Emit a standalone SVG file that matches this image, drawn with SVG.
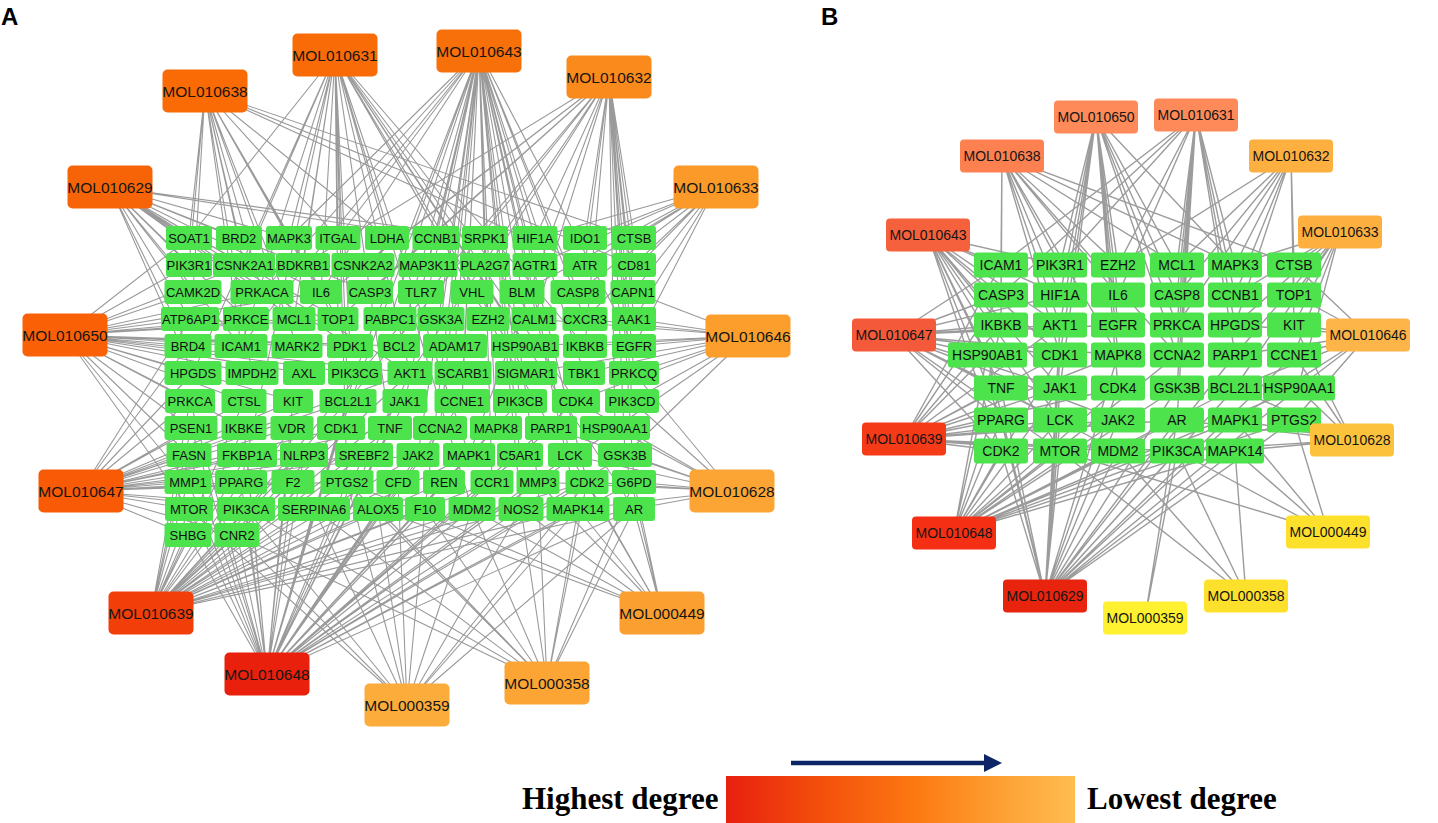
<svg xmlns="http://www.w3.org/2000/svg" width="1438" height="823" viewBox="0 0 1438 823">
<defs>
<style>
.e{fill:none;stroke:#9a9a9a;stroke-width:1.1}
.eb{fill:none;stroke:#9c9c9c;stroke-width:1.4}
.g rect{fill:#4de34d}
.g text{font-family:"Liberation Sans",Arial,sans-serif;font-size:13px;fill:#111;text-anchor:middle}
.gb rect{fill:#4de34d}
.gb text{font-family:"Liberation Sans",Arial,sans-serif;font-size:14px;fill:#111;text-anchor:middle}
.m text{font-family:"Liberation Sans",Arial,sans-serif;font-size:15.5px;fill:#151515;text-anchor:middle}
.mb text{font-family:"Liberation Sans",Arial,sans-serif;font-size:14px;fill:#151515;text-anchor:middle}
.lab{font-family:"Liberation Sans",Arial,sans-serif;font-size:24px;font-weight:bold;fill:#000}
.leg{font-family:"Liberation Serif","Times New Roman",serif;font-size:31px;font-weight:bold;fill:#000}
</style>
<linearGradient id="grad" x1="0" y1="0" x2="1" y2="0">
<stop offset="0" stop-color="#e8200e"/>
<stop offset="0.3" stop-color="#f4540c"/>
<stop offset="0.55" stop-color="#fc7a12"/>
<stop offset="0.8" stop-color="#fda235"/>
<stop offset="1" stop-color="#ffbd50"/>
</linearGradient>
<marker id="ah" markerWidth="4" markerHeight="4" refX="0" refY="2" orient="auto" markerUnits="strokeWidth">
<path d="M0 0L4 2L0 4Z" fill="#0d2466"/>
</marker>
</defs>
<rect width="1438" height="823" fill="#fff"/>
<text class="lab" x="1" y="25">A</text>
<text class="lab" x="821" y="25">B</text>

<g id="connectors">
<path class="e" d="M335 55 189 238M335 55 289 238M335 55 338 238M335 55 387 238M335 55 244 265M335 55 303 265M335 55 321 292M335 55 370 292M335 55 472 292M335 55 294 319M335 55 338 319M335 55 488 319M335 55 534 319M335 55 241 346M335 55 350 346M335 55 525 346M335 55 585 346M335 55 410 373M335 55 526 373M335 55 348 401M335 55 576 401M335 55 390 428M335 55 551 428M335 55 469 455M335 55 347 482M335 55 472 509M335 55 634 509M335 55 241 482M335 55 193 373"/>
<path class="e" d="M479 51 436 238M479 51 485 238M479 51 535 238M479 51 289 238M479 51 338 238M479 51 485 265M479 51 535 265M479 51 428 265M479 51 578 292M479 51 522 292M479 51 421 292M479 51 262 292M479 51 390 319M479 51 441 319M479 51 488 319M479 51 585 319M479 51 399 346M479 51 455 346M479 51 634 346M479 51 463 373M479 51 584 373M479 51 355 373M479 51 462 401M479 51 520 401M479 51 405 401M479 51 440 428M479 51 496 428M479 51 341 428M479 51 520 455M479 51 570 455M479 51 418 455M479 51 492 482M479 51 538 482M479 51 587 482M479 51 521 509M479 51 578 509M479 51 425 509M479 51 241 346M479 51 321 292"/>
<path class="e" d="M609 77 585 238M609 77 634 238M609 77 535 238M609 77 585 265M609 77 634 265M609 77 633 292M609 77 634 319M609 77 534 319M609 77 472 292M609 77 338 319M609 77 294 319M609 77 585 346M609 77 634 373M609 77 632 401M609 77 615 428M609 77 625 455M609 77 634 482M609 77 370 292M609 77 363 265M609 77 410 373M609 77 469 455M609 77 348 401M609 77 246 509M609 77 303 265"/>
<path class="e" d="M205 91 189 238M205 91 189 265M205 91 193 292M205 91 239 238M205 91 244 265M205 91 262 292M205 91 294 319M205 91 241 346M205 91 297 346M205 91 252 373M205 91 634 238M205 91 634 265M205 91 338 238M205 91 321 292M205 91 338 319M205 91 585 265M205 91 387 238M205 91 350 346"/>
<path class="e" d="M110 187 189 238M110 187 189 265M110 187 193 292M110 187 239 238M110 187 244 265M110 187 289 238M110 187 436 238M110 187 303 265M110 187 262 292M110 187 321 292M110 187 190 319M110 187 246 319M110 187 294 319M110 187 241 346M110 187 188 346M110 187 193 373M110 187 410 373M110 187 485 238M110 187 370 292M110 187 350 346M110 187 338 319"/>
<path class="e" d="M716 187 634 238M716 187 634 265M716 187 585 238M716 187 585 265M716 187 633 292M716 187 578 292M716 187 634 319M716 187 585 319M716 187 634 346M716 187 535 238M716 187 535 265M716 187 522 292"/>
<path class="e" d="M65 335 189 238M65 335 189 265M65 335 193 292M65 335 190 319M65 335 188 346M65 335 193 373M65 335 190 401M65 335 191 428M65 335 189 455M65 335 244 265M65 335 262 292M65 335 246 319M65 335 241 346M65 335 252 373M65 335 244 401M65 335 244 428M65 335 294 319M65 335 297 346M65 335 304 373M65 335 293 401M65 335 321 292M65 335 338 319M65 335 350 346M65 335 355 373M65 335 399 346M65 335 410 373M65 335 188 482M65 335 189 509"/>
<path class="e" d="M748 336 633 292M748 336 634 319M748 336 634 346M748 336 634 373M748 336 632 401M748 336 615 428M748 336 585 346M748 336 584 373M748 336 576 401M748 336 585 319M748 336 534 319M748 336 525 346M748 336 526 373M748 336 625 455"/>
<path class="e" d="M81 491 190 401M81 491 191 428M81 491 189 455M81 491 188 482M81 491 189 509M81 491 188 535M81 491 193 373M81 491 188 346M81 491 247 455M81 491 241 482M81 491 246 509M81 491 237 535M81 491 244 428M81 491 292 428M81 491 304 455M81 491 293 482M81 491 314 509M81 491 244 401M81 491 293 401M81 491 341 428M81 491 347 482M81 491 390 428M81 491 418 455M81 491 364 455M81 491 348 401M81 491 410 373M81 491 190 319"/>
<path class="e" d="M732 491 634 482M732 491 634 509M732 491 625 455M732 491 615 428M732 491 587 482M732 491 578 509M732 491 632 401M732 491 570 455M732 491 538 482M732 491 551 428M732 491 576 401M732 491 634 373"/>
<path class="e" d="M151 613 188 535M151 613 237 535M151 613 189 509M151 613 246 509M151 613 188 482M151 613 241 482M151 613 189 455M151 613 247 455M151 613 314 509M151 613 378 509M151 613 425 509M151 613 472 509M151 613 521 509M151 613 578 509M151 613 347 482M151 613 293 482M151 613 398 482M151 613 444 482M151 613 492 482M151 613 304 455M151 613 364 455M151 613 418 455M151 613 469 455M151 613 390 428M151 613 341 428M151 613 292 428M151 613 191 428M151 613 244 428M151 613 190 401M151 613 244 401M151 613 348 401M151 613 405 401M151 613 410 373M151 613 587 482M151 613 634 509"/>
<path class="e" d="M662 613 634 509M662 613 578 509M662 613 634 482M662 613 587 482M662 613 538 482M662 613 521 509M662 613 625 455M662 613 570 455M662 613 472 509M662 613 347 482M662 613 378 509"/>
<path class="e" d="M267 674 188 535M267 674 237 535M267 674 189 509M267 674 246 509M267 674 314 509M267 674 378 509M267 674 425 509M267 674 472 509M267 674 521 509M267 674 578 509M267 674 634 509M267 674 188 482M267 674 241 482M267 674 293 482M267 674 347 482M267 674 398 482M267 674 444 482M267 674 492 482M267 674 538 482M267 674 587 482M267 674 634 482M267 674 189 455M267 674 247 455M267 674 304 455M267 674 364 455M267 674 418 455M267 674 469 455M267 674 520 455M267 674 570 455M267 674 625 455M267 674 191 428M267 674 292 428M267 674 341 428M267 674 390 428M267 674 440 428M267 674 496 428M267 674 551 428M267 674 615 428M267 674 293 401M267 674 348 401M267 674 405 401M267 674 462 401M267 674 520 401M267 674 576 401M267 674 410 373M267 674 355 373M267 674 244 428M267 674 190 401"/>
<path class="e" d="M547 683 634 509M547 683 578 509M547 683 521 509M547 683 472 509M547 683 425 509M547 683 378 509M547 683 314 509M547 683 246 509M547 683 634 482M547 683 587 482M547 683 538 482M547 683 347 482M547 683 237 535"/>
<path class="e" d="M407 705 378 509M407 705 425 509M407 705 472 509M407 705 521 509M407 705 578 509M407 705 634 509M407 705 314 509M407 705 246 509M407 705 237 535M407 705 189 509M407 705 347 482M407 705 398 482M407 705 587 482"/>

<path class="eb" d="M1096 117 1060 265M1096 117 1118 265M1096 117 1177 265M1096 117 1235 265M1096 117 1060 295M1096 117 1118 295M1096 117 1177 295M1096 117 1060 325M1096 117 1118 325M1096 117 1060 355M1096 117 1118 355M1096 117 1060 388M1096 117 1118 388M1096 117 1177 325M1096 117 1177 355"/>
<path class="eb" d="M1196 115 1001 265M1196 115 1060 265M1196 115 1118 265M1196 115 1177 265M1196 115 1235 265M1196 115 1177 295M1196 115 1235 295M1196 115 1118 295M1196 115 1177 325M1196 115 1235 325M1196 115 1177 355M1196 115 1235 355M1196 115 1177 388M1196 115 1177 420M1196 115 1001 295"/>
<path class="eb" d="M1002 156 1001 265M1002 156 1060 265M1002 156 1118 265M1002 156 1177 265M1002 156 1294 265M1002 156 1001 295M1002 156 1060 295M1002 156 1118 295M1002 156 1060 325M1002 156 1060 355M1002 156 1118 355M1002 156 1001 325M1002 156 1177 355M1002 156 1235 265"/>
<path class="eb" d="M1291 156 1294 265M1291 156 1235 265M1291 156 1177 265M1291 156 1235 295M1291 156 1294 295M1291 156 1294 325M1291 156 1235 325M1291 156 1177 295M1291 156 1118 265M1291 156 1177 325"/>
<path class="eb" d="M928 235 1001 265M928 235 1001 295M928 235 1001 325M928 235 987 355M928 235 1001 388M928 235 1001 420M928 235 1001 451M928 235 1060 295M928 235 1060 325M928 235 1060 355M928 235 1060 388M928 235 1060 420M928 235 1060 451M928 235 1060 265"/>
<path class="eb" d="M1340 232 1294 265M1340 232 1294 295M1340 232 1294 325M1340 232 1294 355M1340 232 1298 388M1340 232 1235 295M1340 232 1235 325M1340 232 1235 355M1340 232 1235 265M1340 232 1235 388"/>
<path class="eb" d="M894 335 1001 265M894 335 1001 295M894 335 1001 325M894 335 987 355M894 335 1001 388M894 335 1001 420M894 335 1001 451M894 335 1060 325M894 335 1060 355M894 335 1060 388M894 335 1060 420M894 335 1060 451M894 335 1060 295M894 335 1118 325M894 335 1118 355M894 335 1118 420M894 335 1118 451"/>
<path class="eb" d="M1368 335 1294 325M1368 335 1294 355M1368 335 1298 388M1368 335 1294 420M1368 335 1294 295M1368 335 1235 355M1368 335 1235 388M1368 335 1235 420M1368 335 1235 325M1368 335 1294 265"/>
<path class="eb" d="M904 439 1001 420M904 439 1001 451M904 439 1001 388M904 439 987 355M904 439 1001 325M904 439 1001 295M904 439 1060 420M904 439 1060 451M904 439 1060 388M904 439 1060 355M904 439 1118 420M904 439 1118 451M904 439 1060 325M904 439 1118 388M904 439 1177 420M904 439 1177 451M904 439 1118 355M904 439 1001 265"/>
<path class="eb" d="M1352 440 1294 420M1352 440 1298 388M1352 440 1235 451M1352 440 1235 420M1352 440 1294 355M1352 440 1235 388M1352 440 1294 325M1352 440 1177 451M1352 440 1177 420"/>
<path class="eb" d="M954 533 1001 451M954 533 1001 420M954 533 1060 451M954 533 1060 420M954 533 1118 451M954 533 1118 420M954 533 1177 451M954 533 1177 420M954 533 1235 451M954 533 1235 420M954 533 1001 388M954 533 1060 388M954 533 1118 388M954 533 1177 388M954 533 1235 388M954 533 987 355M954 533 1060 355M954 533 1294 420M954 533 1298 388M954 533 1177 355M954 533 1001 325"/>
<path class="eb" d="M1328 532 1235 451M1328 532 1060 451M1328 532 1235 420M1328 532 1294 420M1328 532 1177 451"/>
<path class="eb" d="M1045 596 1001 451M1045 596 1060 451M1045 596 1118 451M1045 596 1177 451M1045 596 1235 451M1045 596 1001 420M1045 596 1060 420M1045 596 1118 420M1045 596 1177 420M1045 596 1235 420M1045 596 1294 420M1045 596 1001 388M1045 596 1060 388M1045 596 1118 388M1045 596 1177 388M1045 596 1235 388M1045 596 1298 388M1045 596 1060 355M1045 596 1118 355M1045 596 1235 355M1045 596 1294 355M1045 596 987 355M1045 596 1060 325"/>
<path class="eb" d="M1246 596 1118 451M1246 596 1177 451M1246 596 1235 451M1246 596 1060 451"/>
<path class="eb" d="M1145 618 1177 451M1145 618 1177 420"/>
</g>

<g id="panelA-genes" class="g">
<g id="a-SOAT1"><rect x="166" y="226" width="46" height="24" rx="3"/><text x="189" y="243">SOAT1</text></g>
<g id="a-BRD2"><rect x="216" y="226" width="46" height="24" rx="3"/><text x="239" y="243">BRD2</text></g>
<g id="a-MAPK3"><rect x="266" y="226" width="46" height="24" rx="3"/><text x="289" y="243">MAPK3</text></g>
<g id="a-ITGAL"><rect x="315.5" y="226" width="45" height="24" rx="3"/><text x="338" y="243">ITGAL</text></g>
<g id="a-LDHA"><rect x="365" y="226" width="44" height="24" rx="3"/><text x="387" y="243">LDHA</text></g>
<g id="a-CCNB1"><rect x="412.5" y="226" width="47" height="24" rx="3"/><text x="436" y="243">CCNB1</text></g>
<g id="a-SRPK1"><rect x="462" y="226" width="46" height="24" rx="3"/><text x="485" y="243">SRPK1</text></g>
<g id="a-HIF1A"><rect x="512.5" y="226" width="45" height="24" rx="3"/><text x="535" y="243">HIF1A</text></g>
<g id="a-IDO1"><rect x="563" y="226" width="44" height="24" rx="3"/><text x="585" y="243">IDO1</text></g>
<g id="a-CTSB"><rect x="612" y="226" width="44" height="24" rx="3"/><text x="634" y="243">CTSB</text></g>

<g id="a-PIK3R1"><rect x="166" y="253" width="46" height="24" rx="3"/><text x="189" y="270">PIK3R1</text></g>
<g id="a-CSNK2A1"><rect x="213" y="253" width="62" height="24" rx="3"/><text x="244" y="270">CSNK2A1</text></g>
<g id="a-BDKRB1"><rect x="276" y="253" width="54" height="24" rx="3"/><text x="303" y="270">BDKRB1</text></g>
<g id="a-CSNK2A2"><rect x="331.5" y="253" width="63" height="24" rx="3"/><text x="363" y="270">CSNK2A2</text></g>
<g id="a-MAP3K11"><rect x="398.5" y="253" width="59" height="24" rx="3"/><text x="428" y="270">MAP3K11</text></g>
<g id="a-PLA2G7"><rect x="460" y="253" width="50" height="24" rx="3"/><text x="485" y="270">PLA2G7</text></g>
<g id="a-AGTR1"><rect x="512.5" y="253" width="45" height="24" rx="3"/><text x="535" y="270">AGTR1</text></g>
<g id="a-ATR"><rect x="563" y="253" width="44" height="24" rx="3"/><text x="585" y="270">ATR</text></g>
<g id="a-CD81"><rect x="612" y="253" width="44" height="24" rx="3"/><text x="634" y="270">CD81</text></g>

<g id="a-CAMK2D"><rect x="164.5" y="280" width="57" height="24" rx="3"/><text x="193" y="297">CAMK2D</text></g>
<g id="a-PRKACA"><rect x="230.5" y="280" width="63" height="24" rx="3"/><text x="262" y="297">PRKACA</text></g>
<g id="a-IL6"><rect x="300" y="280" width="42" height="24" rx="3"/><text x="321" y="297">IL6</text></g>
<g id="a-CASP3"><rect x="347" y="280" width="46" height="24" rx="3"/><text x="370" y="297">CASP3</text></g>
<g id="a-TLR7"><rect x="398" y="280" width="46" height="24" rx="3"/><text x="421" y="297">TLR7</text></g>
<g id="a-VHL"><rect x="450.5" y="280" width="43" height="24" rx="3"/><text x="472" y="297">VHL</text></g>
<g id="a-BLM"><rect x="499.5" y="280" width="45" height="24" rx="3"/><text x="522" y="297">BLM</text></g>
<g id="a-CASP8"><rect x="550.5" y="280" width="55" height="24" rx="3"/><text x="578" y="297">CASP8</text></g>
<g id="a-CAPN1"><rect x="610.5" y="280" width="45" height="24" rx="3"/><text x="633" y="297">CAPN1</text></g>

<g id="a-ATP6AP1"><rect x="161" y="307" width="58" height="24" rx="3"/><text x="190" y="324">ATP6AP1</text></g>
<g id="a-PRKCE"><rect x="223" y="307" width="46" height="24" rx="3"/><text x="246" y="324">PRKCE</text></g>
<g id="a-MCL1"><rect x="272.5" y="307" width="43" height="24" rx="3"/><text x="294" y="324">MCL1</text></g>
<g id="a-TOP1"><rect x="317.5" y="307" width="41" height="24" rx="3"/><text x="338" y="324">TOP1</text></g>
<g id="a-PABPC1"><rect x="363.5" y="307" width="53" height="24" rx="3"/><text x="390" y="324">PABPC1</text></g>
<g id="a-GSK3A"><rect x="417.5" y="307" width="47" height="24" rx="3"/><text x="441" y="324">GSK3A</text></g>
<g id="a-EZH2"><rect x="466.5" y="307" width="43" height="24" rx="3"/><text x="488" y="324">EZH2</text></g>
<g id="a-CALM1"><rect x="511.5" y="307" width="45" height="24" rx="3"/><text x="534" y="324">CALM1</text></g>
<g id="a-CXCR3"><rect x="562.5" y="307" width="45" height="24" rx="3"/><text x="585" y="324">CXCR3</text></g>
<g id="a-AAK1"><rect x="612" y="307" width="44" height="24" rx="3"/><text x="634" y="324">AAK1</text></g>

<g id="a-BRD4"><rect x="164.5" y="334" width="47" height="24" rx="3"/><text x="188" y="351">BRD4</text></g>
<g id="a-ICAM1"><rect x="214.5" y="334" width="53" height="24" rx="3"/><text x="241" y="351">ICAM1</text></g>
<g id="a-MARK2"><rect x="271.5" y="334" width="51" height="24" rx="3"/><text x="297" y="351">MARK2</text></g>
<g id="a-PDK1"><rect x="327" y="334" width="46" height="24" rx="3"/><text x="350" y="351">PDK1</text></g>
<g id="a-BCL2"><rect x="378" y="334" width="42" height="24" rx="3"/><text x="399" y="351">BCL2</text></g>
<g id="a-ADAM17"><rect x="423" y="334" width="64" height="24" rx="3"/><text x="455" y="351">ADAM17</text></g>
<g id="a-HSP90AB1"><rect x="491" y="334" width="68" height="24" rx="3"/><text x="525" y="351">HSP90AB1</text></g>
<g id="a-IKBKB"><rect x="563" y="334" width="44" height="24" rx="3"/><text x="585" y="351">IKBKB</text></g>
<g id="a-EGFR"><rect x="612" y="334" width="44" height="24" rx="3"/><text x="634" y="351">EGFR</text></g>

<g id="a-HPGDS"><rect x="164.5" y="361" width="57" height="24" rx="3"/><text x="193" y="378">HPGDS</text></g>
<g id="a-IMPDH2"><rect x="225.5" y="361" width="53" height="24" rx="3"/><text x="252" y="378">IMPDH2</text></g>
<g id="a-AXL"><rect x="283" y="361" width="42" height="24" rx="3"/><text x="304" y="378">AXL</text></g>
<g id="a-PIK3CG"><rect x="328" y="361" width="54" height="24" rx="3"/><text x="355" y="378">PIK3CG</text></g>
<g id="a-AKT1"><rect x="387.5" y="361" width="45" height="24" rx="3"/><text x="410" y="378">AKT1</text></g>
<g id="a-SCARB1"><rect x="434.5" y="361" width="57" height="24" rx="3"/><text x="463" y="378">SCARB1</text></g>
<g id="a-SIGMAR1"><rect x="495" y="361" width="62" height="24" rx="3"/><text x="526" y="378">SIGMAR1</text></g>
<g id="a-TBK1"><rect x="563" y="361" width="42" height="24" rx="3"/><text x="584" y="378">TBK1</text></g>
<g id="a-PRKCQ"><rect x="609" y="361" width="50" height="24" rx="3"/><text x="634" y="378">PRKCQ</text></g>

<g id="a-PRKCA"><rect x="165" y="389" width="50" height="24" rx="3"/><text x="190" y="406">PRKCA</text></g>
<g id="a-CTSL"><rect x="221.5" y="389" width="45" height="24" rx="3"/><text x="244" y="406">CTSL</text></g>
<g id="a-KIT"><rect x="273" y="389" width="40" height="24" rx="3"/><text x="293" y="406">KIT</text></g>
<g id="a-BCL2L1"><rect x="319.5" y="389" width="57" height="24" rx="3"/><text x="348" y="406">BCL2L1</text></g>
<g id="a-JAK1"><rect x="382.5" y="389" width="45" height="24" rx="3"/><text x="405" y="406">JAK1</text></g>
<g id="a-CCNE1"><rect x="434.5" y="389" width="55" height="24" rx="3"/><text x="462" y="406">CCNE1</text></g>
<g id="a-PIK3CB"><rect x="493" y="389" width="54" height="24" rx="3"/><text x="520" y="406">PIK3CB</text></g>
<g id="a-CDK4"><rect x="552" y="389" width="48" height="24" rx="3"/><text x="576" y="406">CDK4</text></g>
<g id="a-PIK3CD"><rect x="605" y="389" width="54" height="24" rx="3"/><text x="632" y="406">PIK3CD</text></g>

<g id="a-PSEN1"><rect x="164.5" y="416" width="53" height="24" rx="3"/><text x="191" y="433">PSEN1</text></g>
<g id="a-IKBKE"><rect x="221.5" y="416" width="45" height="24" rx="3"/><text x="244" y="433">IKBKE</text></g>
<g id="a-VDR"><rect x="270.5" y="416" width="43" height="24" rx="3"/><text x="292" y="433">VDR</text></g>
<g id="a-CDK1"><rect x="317" y="416" width="48" height="24" rx="3"/><text x="341" y="433">CDK1</text></g>
<g id="a-TNF"><rect x="368" y="416" width="44" height="24" rx="3"/><text x="390" y="433">TNF</text></g>
<g id="a-CCNA2"><rect x="413" y="416" width="54" height="24" rx="3"/><text x="440" y="433">CCNA2</text></g>
<g id="a-MAPK8"><rect x="470" y="416" width="52" height="24" rx="3"/><text x="496" y="433">MAPK8</text></g>
<g id="a-PARP1"><rect x="525" y="416" width="52" height="24" rx="3"/><text x="551" y="433">PARP1</text></g>
<g id="a-HSP90AA1"><rect x="580" y="416" width="70" height="24" rx="3"/><text x="615" y="433">HSP90AA1</text></g>

<g id="a-FASN"><rect x="166.5" y="443" width="45" height="24" rx="3"/><text x="189" y="460">FASN</text></g>
<g id="a-FKBP1A"><rect x="217" y="443" width="60" height="24" rx="3"/><text x="247" y="460">FKBP1A</text></g>
<g id="a-NLRP3"><rect x="280" y="443" width="48" height="24" rx="3"/><text x="304" y="460">NLRP3</text></g>
<g id="a-SREBF2"><rect x="335" y="443" width="58" height="24" rx="3"/><text x="364" y="460">SREBF2</text></g>
<g id="a-JAK2"><rect x="396.5" y="443" width="43" height="24" rx="3"/><text x="418" y="460">JAK2</text></g>
<g id="a-MAPK1"><rect x="443" y="443" width="52" height="24" rx="3"/><text x="469" y="460">MAPK1</text></g>
<g id="a-C5AR1"><rect x="497" y="443" width="46" height="24" rx="3"/><text x="520" y="460">C5AR1</text></g>
<g id="a-LCK"><rect x="548" y="443" width="44" height="24" rx="3"/><text x="570" y="460">LCK</text></g>
<g id="a-GSK3B"><rect x="598" y="443" width="54" height="24" rx="3"/><text x="625" y="460">GSK3B</text></g>

<g id="a-MMP1"><rect x="164.5" y="470" width="47" height="24" rx="3"/><text x="188" y="487">MMP1</text></g>
<g id="a-PPARG"><rect x="215" y="470" width="52" height="24" rx="3"/><text x="241" y="487">PPARG</text></g>
<g id="a-F2"><rect x="271.5" y="470" width="43" height="24" rx="3"/><text x="293" y="487">F2</text></g>
<g id="a-PTGS2"><rect x="320.5" y="470" width="53" height="24" rx="3"/><text x="347" y="487">PTGS2</text></g>
<g id="a-CFD"><rect x="376.5" y="470" width="43" height="24" rx="3"/><text x="398" y="487">CFD</text></g>
<g id="a-REN"><rect x="423" y="470" width="42" height="24" rx="3"/><text x="444" y="487">REN</text></g>
<g id="a-CCR1"><rect x="470.5" y="470" width="43" height="24" rx="3"/><text x="492" y="487">CCR1</text></g>
<g id="a-MMP3"><rect x="516.5" y="470" width="43" height="24" rx="3"/><text x="538" y="487">MMP3</text></g>
<g id="a-CDK2"><rect x="565.5" y="470" width="43" height="24" rx="3"/><text x="587" y="487">CDK2</text></g>
<g id="a-G6PD"><rect x="612" y="470" width="44" height="24" rx="3"/><text x="634" y="487">G6PD</text></g>

<g id="a-MTOR"><rect x="165" y="497" width="48" height="24" rx="3"/><text x="189" y="514">MTOR</text></g>
<g id="a-PIK3CA"><rect x="217" y="497" width="58" height="24" rx="3"/><text x="246" y="514">PIK3CA</text></g>
<g id="a-SERPINA6"><rect x="278" y="497" width="72" height="24" rx="3"/><text x="314" y="514">SERPINA6</text></g>
<g id="a-ALOX5"><rect x="353" y="497" width="50" height="24" rx="3"/><text x="378" y="514">ALOX5</text></g>
<g id="a-F10"><rect x="405" y="497" width="40" height="24" rx="3"/><text x="425" y="514">F10</text></g>
<g id="a-MDM2"><rect x="448.5" y="497" width="47" height="24" rx="3"/><text x="472" y="514">MDM2</text></g>
<g id="a-NOS2"><rect x="498.5" y="497" width="45" height="24" rx="3"/><text x="521" y="514">NOS2</text></g>
<g id="a-MAPK14"><rect x="546.5" y="497" width="63" height="24" rx="3"/><text x="578" y="514">MAPK14</text></g>
<g id="a-AR"><rect x="613" y="497" width="42" height="24" rx="3"/><text x="634" y="514">AR</text></g>

<g id="a-SHBG"><rect x="164.5" y="523" width="47" height="24" rx="3"/><text x="188" y="540">SHBG</text></g>
<g id="a-CNR2"><rect x="214.5" y="523" width="45" height="24" rx="3"/><text x="237" y="540">CNR2</text></g>
</g>

<g id="panelA-mols" class="m">
<g id="a-MOL010631"><rect x="292.5" y="33.5" width="85" height="43" rx="5" fill="#f96b06"/><text x="335" y="60.5">MOL010631</text></g>
<g id="a-MOL010643"><rect x="436.5" y="29.5" width="85" height="43" rx="5" fill="#f8700a"/><text x="479" y="56.5">MOL010643</text></g>
<g id="a-MOL010632"><rect x="566.5" y="55.5" width="85" height="43" rx="5" fill="#fa8a1c"/><text x="609" y="82.5">MOL010632</text></g>
<g id="a-MOL010638"><rect x="162.5" y="69.5" width="85" height="43" rx="5" fill="#fa6a05"/><text x="205" y="96.5">MOL010638</text></g>
<g id="a-MOL010629"><rect x="67.5" y="165.5" width="85" height="43" rx="5" fill="#f76408"/><text x="110" y="192.5">MOL010629</text></g>
<g id="a-MOL010633"><rect x="673.5" y="165.5" width="85" height="43" rx="5" fill="#fb9a28"/><text x="716" y="192.5">MOL010633</text></g>
<g id="a-MOL010650"><rect x="22.5" y="313.5" width="85" height="43" rx="5" fill="#fa6005"/><text x="65" y="340.5">MOL010650</text></g>
<g id="a-MOL010646"><rect x="705.5" y="314.5" width="85" height="43" rx="5" fill="#fb9e2c"/><text x="748" y="341.5">MOL010646</text></g>
<g id="a-MOL010647"><rect x="38.5" y="469.5" width="85" height="43" rx="5" fill="#f85a05"/><text x="81" y="496.5">MOL010647</text></g>
<g id="a-MOL010628"><rect x="689.5" y="469.5" width="85" height="43" rx="5" fill="#fca535"/><text x="732" y="496.5">MOL010628</text></g>
<g id="a-MOL010639"><rect x="108.5" y="591.5" width="85" height="43" rx="5" fill="#f23f0a"/><text x="151" y="618.5">MOL010639</text></g>
<g id="a-MOL000449"><rect x="619.5" y="591.5" width="85" height="43" rx="5" fill="#fba030"/><text x="662" y="618.5">MOL000449</text></g>
<g id="a-MOL010648"><rect x="224.5" y="652.5" width="85" height="43" rx="5" fill="#e8200c"/><text x="267" y="679.5">MOL010648</text></g>
<g id="a-MOL000358"><rect x="504.5" y="661.5" width="85" height="43" rx="5" fill="#fca535"/><text x="547" y="688.5">MOL000358</text></g>
<g id="a-MOL000359"><rect x="364.5" y="683.5" width="85" height="43" rx="5" fill="#fcac3a"/><text x="407" y="710.5">MOL000359</text></g>
</g>

<g id="panelB-genes" class="gb">
<g id="b-ICAM1"><rect x="974" y="252.5" width="54" height="25" rx="3"/><text x="1001" y="270">ICAM1</text></g>
<g id="b-PIK3R1"><rect x="1033" y="252.5" width="54" height="25" rx="3"/><text x="1060" y="270">PIK3R1</text></g>
<g id="b-EZH2"><rect x="1091" y="252.5" width="54" height="25" rx="3"/><text x="1118" y="270">EZH2</text></g>
<g id="b-MCL1"><rect x="1150" y="252.5" width="54" height="25" rx="3"/><text x="1177" y="270">MCL1</text></g>
<g id="b-MAPK3"><rect x="1208" y="252.5" width="54" height="25" rx="3"/><text x="1235" y="270">MAPK3</text></g>
<g id="b-CTSB"><rect x="1267" y="252.5" width="54" height="25" rx="3"/><text x="1294" y="270">CTSB</text></g>

<g id="b-CASP3"><rect x="974" y="282.5" width="54" height="25" rx="3"/><text x="1001" y="300">CASP3</text></g>
<g id="b-HIF1A"><rect x="1033" y="282.5" width="54" height="25" rx="3"/><text x="1060" y="300">HIF1A</text></g>
<g id="b-IL6"><rect x="1091" y="282.5" width="54" height="25" rx="3"/><text x="1118" y="300">IL6</text></g>
<g id="b-CASP8"><rect x="1150" y="282.5" width="54" height="25" rx="3"/><text x="1177" y="300">CASP8</text></g>
<g id="b-CCNB1"><rect x="1208" y="282.5" width="54" height="25" rx="3"/><text x="1235" y="300">CCNB1</text></g>
<g id="b-TOP1"><rect x="1267" y="282.5" width="54" height="25" rx="3"/><text x="1294" y="300">TOP1</text></g>

<g id="b-IKBKB"><rect x="974" y="312.5" width="54" height="25" rx="3"/><text x="1001" y="330">IKBKB</text></g>
<g id="b-AKT1"><rect x="1033" y="312.5" width="54" height="25" rx="3"/><text x="1060" y="330">AKT1</text></g>
<g id="b-EGFR"><rect x="1091" y="312.5" width="54" height="25" rx="3"/><text x="1118" y="330">EGFR</text></g>
<g id="b-PRKCA"><rect x="1150" y="312.5" width="54" height="25" rx="3"/><text x="1177" y="330">PRKCA</text></g>
<g id="b-HPGDS"><rect x="1208" y="312.5" width="54" height="25" rx="3"/><text x="1235" y="330">HPGDS</text></g>
<g id="b-KIT"><rect x="1267" y="312.5" width="54" height="25" rx="3"/><text x="1294" y="330">KIT</text></g>

<g id="b-HSP90AB1"><rect x="948" y="342.5" width="79" height="25" rx="3"/><text x="987.5" y="360">HSP90AB1</text></g>
<g id="b-CDK1"><rect x="1033" y="342.5" width="54" height="25" rx="3"/><text x="1060" y="360">CDK1</text></g>
<g id="b-MAPK8"><rect x="1091" y="342.5" width="54" height="25" rx="3"/><text x="1118" y="360">MAPK8</text></g>
<g id="b-CCNA2"><rect x="1150" y="342.5" width="54" height="25" rx="3"/><text x="1177" y="360">CCNA2</text></g>
<g id="b-PARP1"><rect x="1208" y="342.5" width="54" height="25" rx="3"/><text x="1235" y="360">PARP1</text></g>
<g id="b-CCNE1"><rect x="1267" y="342.5" width="54" height="25" rx="3"/><text x="1294" y="360">CCNE1</text></g>

<g id="b-TNF"><rect x="974" y="375.5" width="54" height="25" rx="3"/><text x="1001" y="393">TNF</text></g>
<g id="b-JAK1"><rect x="1033" y="375.5" width="54" height="25" rx="3"/><text x="1060" y="393">JAK1</text></g>
<g id="b-CDK4"><rect x="1091" y="375.5" width="54" height="25" rx="3"/><text x="1118" y="393">CDK4</text></g>
<g id="b-GSK3B"><rect x="1150" y="375.5" width="54" height="25" rx="3"/><text x="1177" y="393">GSK3B</text></g>
<g id="b-BCL2L1"><rect x="1208" y="375.5" width="54" height="25" rx="3"/><text x="1235" y="393">BCL2L1</text></g>
<g id="b-HSP90AA1"><rect x="1263" y="375.5" width="72" height="25" rx="3"/><text x="1299" y="393">HSP90AA1</text></g>

<g id="b-PPARG"><rect x="974" y="407.5" width="54" height="25" rx="3"/><text x="1001" y="425">PPARG</text></g>
<g id="b-LCK"><rect x="1033" y="407.5" width="54" height="25" rx="3"/><text x="1060" y="425">LCK</text></g>
<g id="b-JAK2"><rect x="1091" y="407.5" width="54" height="25" rx="3"/><text x="1118" y="425">JAK2</text></g>
<g id="b-AR"><rect x="1150" y="407.5" width="54" height="25" rx="3"/><text x="1177" y="425">AR</text></g>
<g id="b-MAPK1"><rect x="1208" y="407.5" width="54" height="25" rx="3"/><text x="1235" y="425">MAPK1</text></g>
<g id="b-PTGS2"><rect x="1267" y="407.5" width="54" height="25" rx="3"/><text x="1294" y="425">PTGS2</text></g>

<g id="b-CDK2"><rect x="974" y="438.5" width="54" height="25" rx="3"/><text x="1001" y="456">CDK2</text></g>
<g id="b-MTOR"><rect x="1033" y="438.5" width="54" height="25" rx="3"/><text x="1060" y="456">MTOR</text></g>
<g id="b-MDM2"><rect x="1091" y="438.5" width="54" height="25" rx="3"/><text x="1118" y="456">MDM2</text></g>
<g id="b-PIK3CA"><rect x="1150" y="438.5" width="54" height="25" rx="3"/><text x="1177" y="456">PIK3CA</text></g>
<g id="b-MAPK14"><rect x="1206" y="438.5" width="58" height="25" rx="3"/><text x="1235" y="456">MAPK14</text></g>
</g>

<g id="panelB-mols" class="mb">
<g id="b-MOL010650"><rect x="1054" y="100.5" width="84" height="33" rx="4" fill="#fd8a58"/><text x="1096" y="122">MOL010650</text></g>
<g id="b-MOL010631"><rect x="1154" y="98.5" width="84" height="33" rx="4" fill="#fd8a58"/><text x="1196" y="120">MOL010631</text></g>
<g id="b-MOL010638"><rect x="960" y="139.5" width="84" height="33" rx="4" fill="#fc8050"/><text x="1002" y="161">MOL010638</text></g>
<g id="b-MOL010632"><rect x="1249" y="139.5" width="84" height="33" rx="4" fill="#fdb040"/><text x="1291" y="161">MOL010632</text></g>
<g id="b-MOL010643"><rect x="886" y="218.5" width="84" height="33" rx="4" fill="#f5613c"/><text x="928" y="240">MOL010643</text></g>
<g id="b-MOL010633"><rect x="1298" y="215.5" width="84" height="33" rx="4" fill="#fdb040"/><text x="1340" y="237">MOL010633</text></g>
<g id="b-MOL010647"><rect x="852" y="318.5" width="84" height="33" rx="4" fill="#f45a3a"/><text x="894" y="340">MOL010647</text></g>
<g id="b-MOL010646"><rect x="1326" y="318.5" width="84" height="33" rx="4" fill="#fdb448"/><text x="1368" y="340">MOL010646</text></g>
<g id="b-MOL010639"><rect x="862" y="422.5" width="84" height="33" rx="4" fill="#f53a18"/><text x="904" y="444">MOL010639</text></g>
<g id="b-MOL010628"><rect x="1310" y="423.5" width="84" height="33" rx="4" fill="#fdc23c"/><text x="1352" y="445">MOL010628</text></g>
<g id="b-MOL010648"><rect x="912" y="516.5" width="84" height="33" rx="4" fill="#f52f14"/><text x="954" y="538">MOL010648</text></g>
<g id="b-MOL000449"><rect x="1286" y="515.5" width="84" height="33" rx="4" fill="#fde02c"/><text x="1328" y="537">MOL000449</text></g>
<g id="b-MOL010629"><rect x="1003" y="579.5" width="84" height="33" rx="4" fill="#e8230e"/><text x="1045" y="601">MOL010629</text></g>
<g id="b-MOL000358"><rect x="1204" y="579.5" width="84" height="33" rx="4" fill="#fde02c"/><text x="1246" y="601">MOL000358</text></g>
<g id="b-MOL000359"><rect x="1103" y="601.5" width="84" height="33" rx="4" fill="#fff030"/><text x="1145" y="623">MOL000359</text></g>
</g>

<g id="legend">
<line x1="791" y1="763" x2="984" y2="763" stroke="#0d2466" stroke-width="4.5" marker-end="url(#ah)"/>
<rect x="726" y="776" width="349" height="47" fill="url(#grad)"/>
<text class="leg" x="522" y="809">Highest degree</text>
<text class="leg" x="1087" y="809">Lowest degree</text>
</g>
</svg>
